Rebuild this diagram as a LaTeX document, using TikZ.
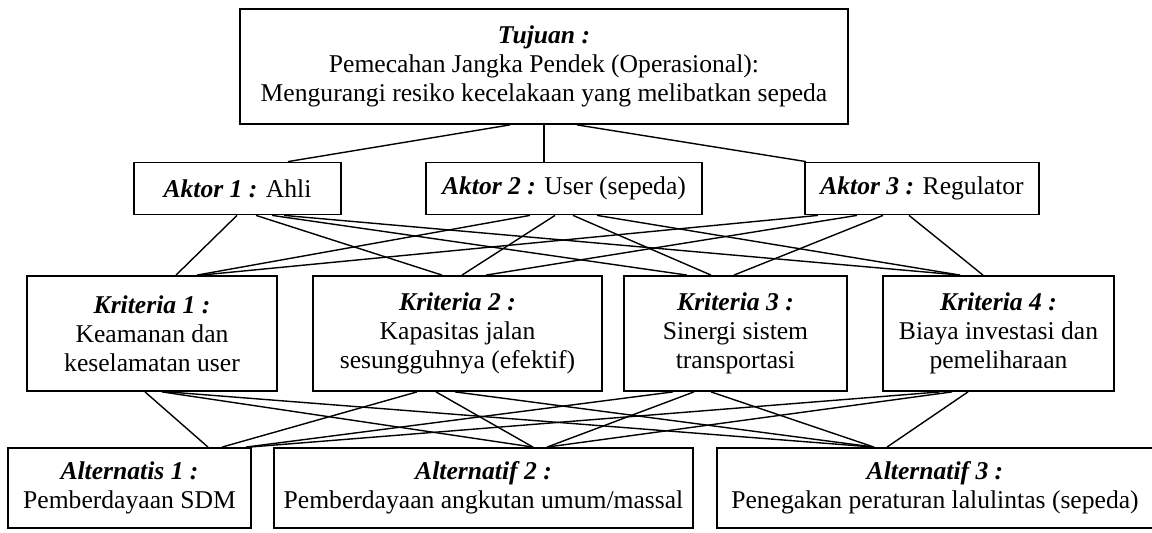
\documentclass[tikz,border=0pt]{standalone}
\usepackage{fontspec}
\setmainfont{Liberation Serif}
\usetikzlibrary{calc}
\begin{document}
\begin{tikzpicture}[x=0.5pt,y=-0.5pt,
  box/.style={draw, line width=0.9pt, inner sep=0pt, align=center,
    font=\fontsize{12.8}{14.4}\selectfont},
  conn/.style={line width=0.7pt}]
\useasboundingbox (0,0) rectangle (1152,533);

% goal
\node[box, minimum width=304pt, minimum height=57.5pt] (T) at (544,66.5)
  {\textbf{\textit{Tujuan :}}\\Pemecahan Jangka Pendek (Operasional):\\Mengurangi resiko kecelakaan yang melibatkan sepeda};

% actors
\node[box, minimum width=103.5pt, minimum height=26pt] (A1) at (237.5,188.5)
  {\textbf{\textit{Aktor 1 :}} Ahli};
\node[box, minimum width=138pt, minimum height=26pt] (A2) at (564,188.5)
  {\textbf{\textit{Aktor 2 :}} User (sepeda)};
\node[box, minimum width=117pt, minimum height=26pt] (A3) at (922,188.5)
  {\textbf{\textit{Aktor 3 :}} Regulator};

% criteria
\node[box, minimum width=125pt, minimum height=57.5pt] (K1) at (152,333.5)
  {\textbf{\textit{Kriteria 1 :}}\\Keamanan dan\\keselamatan user};
\node[box, minimum width=144.5pt, minimum height=57.5pt] (K2) at (457.5,333.5)
  {\textbf{\textit{Kriteria 2 :}}\\Kapasitas jalan\\sesungguhnya (efektif)};
\node[box, minimum width=111.5pt, minimum height=57.5pt] (K3) at (735.5,333.5)
  {\textbf{\textit{Kriteria 3 :}}\\Sinergi sistem\\transportasi};
\node[box, minimum width=115.5pt, minimum height=57.5pt] (K4) at (998.5,333.5)
  {\textbf{\textit{Kriteria 4 :}}\\Biaya investasi dan\\pemeliharaan};

% alternatives
\node[box, minimum width=121.5pt, minimum height=40pt] (L1) at (129.5,488)
  {\textbf{\textit{Alternatis 1 :}}\\Pemberdayaan SDM};
\node[box, minimum width=209.5pt, minimum height=40pt] (L2) at (483.5,488)
  {\textbf{\textit{Alternatif 2 :}}\\Pemberdayaan angkutan umum/massal};
\node[box, minimum width=218pt, minimum height=40pt] (L3) at (935,488)
  {\textbf{\textit{Alternatif 3 :}}\\Penegakan peraturan lalulintas (sepeda)};

% connectors: upper node / x on its bottom edge / lower node / x on its top edge
\foreach \a/\xa/\b/\xb in {
  T/510/A1/288, T/544/A2/544, T/577/A3/806,
  A1/237/K1/176, A1/256/K2/442, A1/272/K3/687, A1/284/K4/960,
  A2/530/K1/197, A2/555/K2/462, A2/573/K3/711, A2/597/K4/960,
  A3/818/K1/201, A3/857/K2/486, A3/883/K3/734, A3/909/K4/983,
  K1/145/L1/208, K1/162/L2/533, K1/168/L3/874,
  K2/417/L1/222, K2/436/L2/533, K2/455/L3/874,
  K3/673/L1/246, K3/694/L2/547, K3/711/L3/874,
  K4/940/L1/249, K4/952/L2/547, K4/968/L3/887}
  \draw[conn] ($(\a.south west)!(\xa,0)!(\a.south east)$)
           -- ($(\b.north west)!(\xb,0)!(\b.north east)$);
\end{tikzpicture}
\end{document}
